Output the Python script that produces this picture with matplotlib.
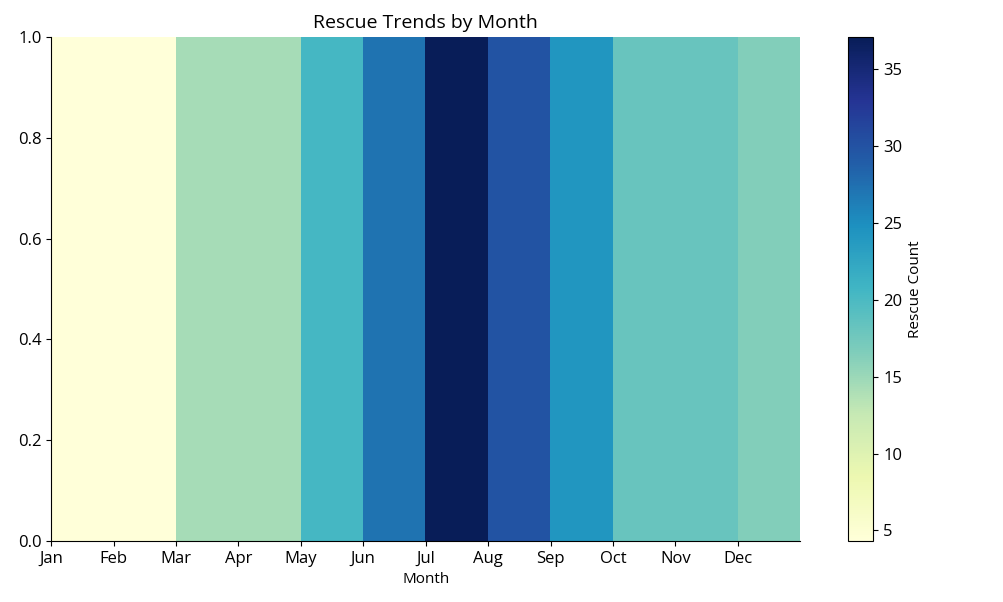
import numpy as np
import matplotlib
matplotlib.use("Agg")
import matplotlib.pyplot as plt

plt.rcParams["font.family"] = ["Open Sans", "DejaVu Sans"]

months = ["Jan", "Feb", "Mar", "Apr", "May", "Jun",
          "Jul", "Aug", "Sep", "Oct", "Nov", "Dec"]
rescues = [4.3, 4.4, 14.3, 14.3, 20.4, 27.2, 37.1, 29.8, 24.2, 18.1, 18.1, 16.4]

fig = plt.figure(figsize=(10.04, 6.02), dpi=100)
ax = fig.add_axes([0.051, 0.101, 0.746, 0.838])
cax = fig.add_axes([0.845, 0.101, 0.025, 0.838])

data = np.array(rescues).reshape(1, -1)
im = ax.imshow(data, cmap="YlGnBu", aspect="auto",
               extent=[0, len(months), 0, 1], origin="lower")

ax.set_xticks(np.arange(len(months)))
ax.set_xticklabels(months)
ax.set_xlim(0, len(months))
ax.set_ylim(0, 1)
ax.set_xlabel("Month", fontsize=11)
ax.set_title("Rescue Trends by Month", fontsize=14)
ax.tick_params(labelsize=12)
ax.spines["top"].set_visible(False)
ax.spines["right"].set_visible(False)

cb = fig.colorbar(im, cax=cax)
cb.set_label("Rescue Count", fontsize=11)
cb.ax.tick_params(labelsize=12)

fig.savefig("out.png", dpi=100)
